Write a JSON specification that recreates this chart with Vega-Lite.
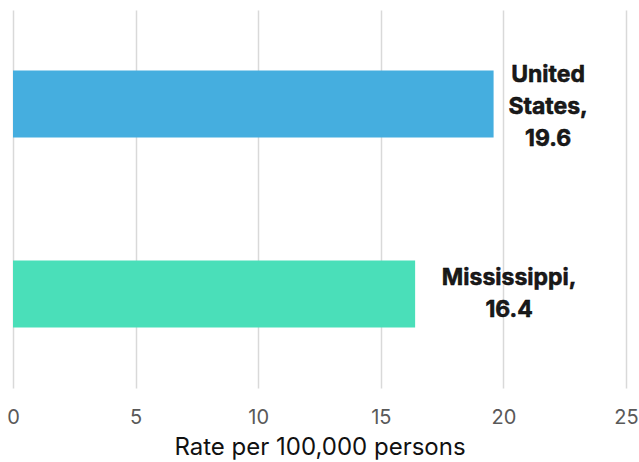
{
  "$schema": "https://vega.github.io/schema/vega-lite/v6.json",
  "autosize": "none",
  "width": 613,
  "height": 378,
  "padding": {"left": 13, "top": 10, "right": 13, "bottom": 74},
  "background": "white",
  "config": {"view": {"stroke": null}},
  "data": {
    "values": [
      {"area": "United States", "rate": 19.6, "label": "United\nStates,\n19.6"},
      {"area": "Mississippi", "rate": 16.4, "label": "Mississippi,\n16.4"}
    ]
  },
  "encoding": {
    "y": {
      "field": "area", "type": "nominal", "sort": ["United States", "Mississippi"],
      "scale": {"paddingInner": 0.647, "paddingOuter": 0.318},
      "axis": null
    },
    "x": {
      "field": "rate", "type": "quantitative",
      "scale": {"domain": [0, 25], "nice": false},
      "title": "Rate per 100,000 persons",
      "axis": {
        "values": [0, 5, 10, 15, 20, 25],
        "domain": false, "ticks": false, "labelFlush": false,
        "grid": true, "gridColor": "#d9d9d9", "gridWidth": 1.5,
        "labelFont": "Inter", "labelFontSize": 20, "labelColor": "#595959",
        "labelPadding": 19,
        "titleFont": "Inter", "titleFontSize": 24, "titleFontWeight": "normal", "titleColor": "#111",
        "titlePadding": 8
      }
    }
  },
  "layer": [
    {
      "mark": {"type": "bar"},
      "encoding": {
        "color": {
          "field": "area", "type": "nominal", "legend": null,
          "scale": {"domain": ["United States", "Mississippi"], "range": ["#45AEDF", "#4ADFB9"]}
        }
      }
    },
    {
      "transform": [{"filter": "datum.area === 'United States'"}],
      "mark": {"type": "text", "align": "center", "baseline": "middle", "dx": 54.5, "dy": -29, "lineBreak": "\n", "lineHeight": 32, "font": "Inter", "fontSize": 23, "fontWeight": "bold", "fill": "#1a1a1a", "stroke": "#000", "strokeWidth": 0.5},
      "encoding": {"text": {"field": "label"}}
    },
    {
      "transform": [{"filter": "datum.area === 'Mississippi'"}],
      "mark": {"type": "text", "align": "center", "baseline": "middle", "dx": 94, "dy": -16, "lineBreak": "\n", "lineHeight": 32, "font": "Inter", "fontSize": 23, "fontWeight": "bold", "fill": "#1a1a1a", "stroke": "#000", "strokeWidth": 0.5},
      "encoding": {"text": {"field": "label"}}
    }
  ]
}
